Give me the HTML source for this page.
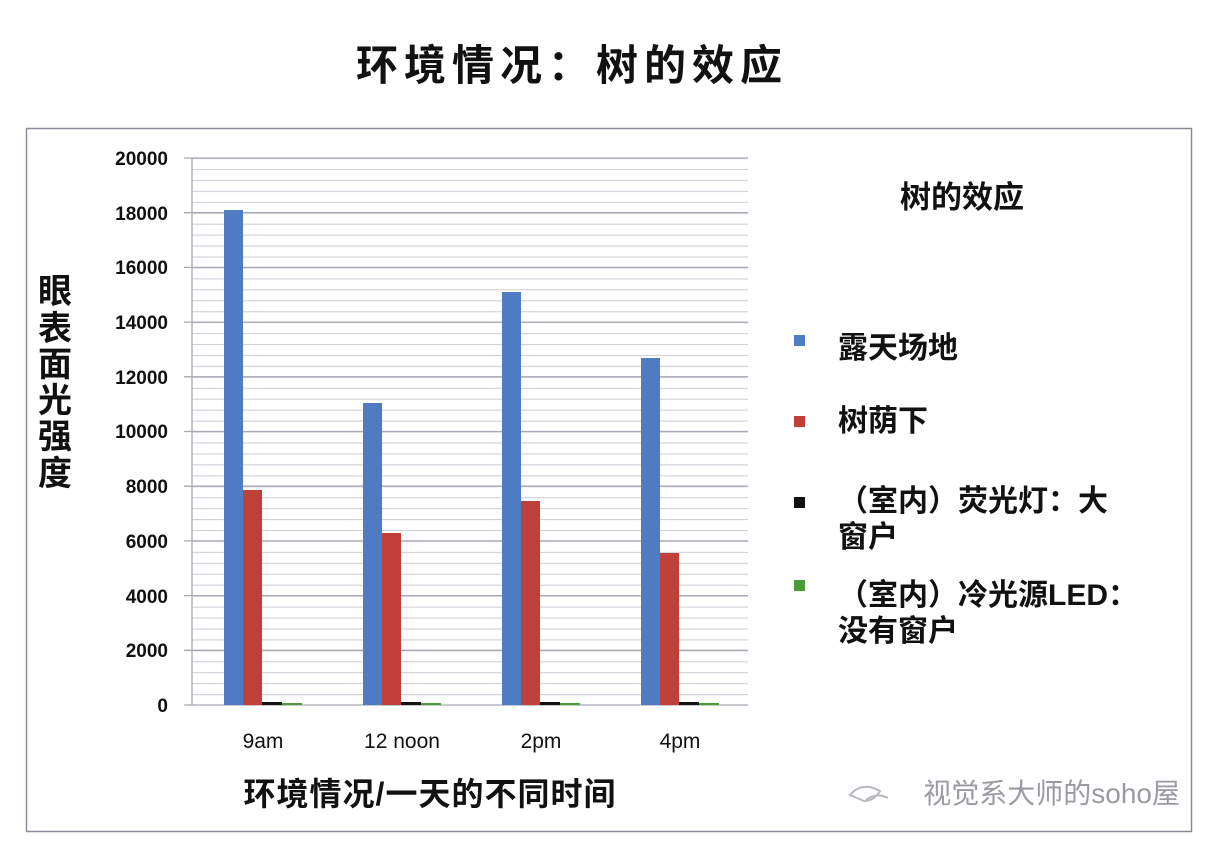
<!DOCTYPE html>
<html><head><meta charset="utf-8"><style>
body{margin:0;background:#fff;}
svg{display:block;}
text{font-family:"Liberation Sans","Noto Sans CJK SC",sans-serif;}
</style></head><body>
<svg width="1220" height="846" viewBox="0 0 1220 846" xmlns="http://www.w3.org/2000/svg">
<defs>
<pattern id="g" x="192" y="158" width="560" height="10.94" patternUnits="userSpaceOnUse">
<line x1="0" y1="0.5" x2="560" y2="0.5" stroke="#cfd0d8" stroke-width="1.3"/>
</pattern>
</defs>
<rect width="1220" height="846" fill="#fff"/>
<text x="572" y="80" font-size="42" font-weight="bold" text-anchor="middle" letter-spacing="6" fill="#111">环境情况：树的效应</text>
<rect x="26.5" y="128.5" width="1165" height="703" fill="none" stroke="#8a8a96" stroke-width="1.5"/>
<rect x="192" y="158" width="556" height="547" fill="url(#g)"/>
<g stroke="#a8a8b4" stroke-width="1.3">
<line x1="184" y1="158" x2="748" y2="158"/>
<line x1="184" y1="212.7" x2="748" y2="212.7"/>
<line x1="184" y1="267.4" x2="748" y2="267.4"/>
<line x1="184" y1="322.1" x2="748" y2="322.1"/>
<line x1="184" y1="376.8" x2="748" y2="376.8"/>
<line x1="184" y1="431.5" x2="748" y2="431.5"/>
<line x1="184" y1="486.2" x2="748" y2="486.2"/>
<line x1="184" y1="540.9" x2="748" y2="540.9"/>
<line x1="184" y1="595.6" x2="748" y2="595.6"/>
<line x1="184" y1="650.3" x2="748" y2="650.3"/>
<line x1="184" y1="705" x2="748" y2="705"/>
<line x1="192" y1="158" x2="192" y2="705"/>
</g>
<g font-size="19" font-weight="bold" text-anchor="end" fill="#111">
<text x="168" y="165">20000</text><text x="168" y="220">18000</text><text x="168" y="274">16000</text>
<text x="168" y="329">14000</text><text x="168" y="384">12000</text><text x="168" y="438">10000</text>
<text x="168" y="493">8000</text><text x="168" y="548">6000</text><text x="168" y="603">4000</text>
<text x="168" y="657">2000</text><text x="168" y="712">0</text>
</g>
<g>
<rect x="224" y="210" width="19" height="495" fill="#4f7bc2"/>
<rect x="243" y="490" width="19" height="215" fill="#bf3f3b"/>
<rect x="262" y="702" width="20" height="3" fill="#111"/>
<rect x="282" y="703" width="20" height="2" fill="#4a9c3a"/>
<rect x="363" y="403" width="19" height="302" fill="#4f7bc2"/>
<rect x="382" y="533" width="19" height="172" fill="#bf3f3b"/>
<rect x="401" y="702" width="20" height="3" fill="#111"/>
<rect x="421" y="703" width="20" height="2" fill="#4a9c3a"/>
<rect x="502" y="292" width="19" height="413" fill="#4f7bc2"/>
<rect x="521" y="501" width="19" height="204" fill="#bf3f3b"/>
<rect x="540" y="702" width="20" height="3" fill="#111"/>
<rect x="560" y="703" width="20" height="2" fill="#4a9c3a"/>
<rect x="641" y="358" width="19" height="347" fill="#4f7bc2"/>
<rect x="660" y="553" width="19" height="152" fill="#bf3f3b"/>
<rect x="679" y="702" width="20" height="3" fill="#111"/>
<rect x="699" y="703" width="20" height="2" fill="#4a9c3a"/>
</g>
<g font-size="21" text-anchor="middle" fill="#111">
<text x="263" y="748">9am</text><text x="402" y="748">12 noon</text>
<text x="541" y="748">2pm</text><text x="680" y="748">4pm</text>
</g>
<text x="430" y="805" font-size="32" font-weight="bold" letter-spacing="1" text-anchor="middle" fill="#111">环境情况/一天的不同时间</text>
<g font-size="34" font-weight="bold" text-anchor="middle" fill="#111">
<text x="55" y="303">眼</text><text x="55" y="340">表</text><text x="55" y="376">面</text>
<text x="55" y="412">光</text><text x="55" y="448">强</text><text x="55" y="485">度</text>
</g>
<text x="962" y="208" font-size="31" font-weight="bold" text-anchor="middle" fill="#111">树的效应</text>
<rect x="794" y="335" width="11" height="11" fill="#4f7bc2"/>
<rect x="794" y="416" width="11" height="11" fill="#bf3f3b"/>
<rect x="794" y="497" width="11" height="11" fill="#111"/>
<rect x="794" y="580" width="11" height="11" fill="#4a9c3a"/>
<g font-size="30" font-weight="bold" fill="#111">
<text x="838" y="358">露天场地</text>
<text x="838" y="431">树荫下</text>
<text x="838" y="511">（室内）荧光灯：大</text>
<text x="838" y="547">窗户</text>
<text x="838" y="605">（室内）冷光源LED：</text>
<text x="838" y="641">没有窗户</text>
</g>
<text x="1180" y="803" font-size="28" text-anchor="end" fill="#9a9aa2">视觉系大师的soho屋</text>
<path d="M850 795 q12 -14 30 -4 q-6 10 -16 10 z M866 800 q10 -8 22 -2" fill="none" stroke="#b8b8c0" stroke-width="2"/>
</svg>
</body></html>
